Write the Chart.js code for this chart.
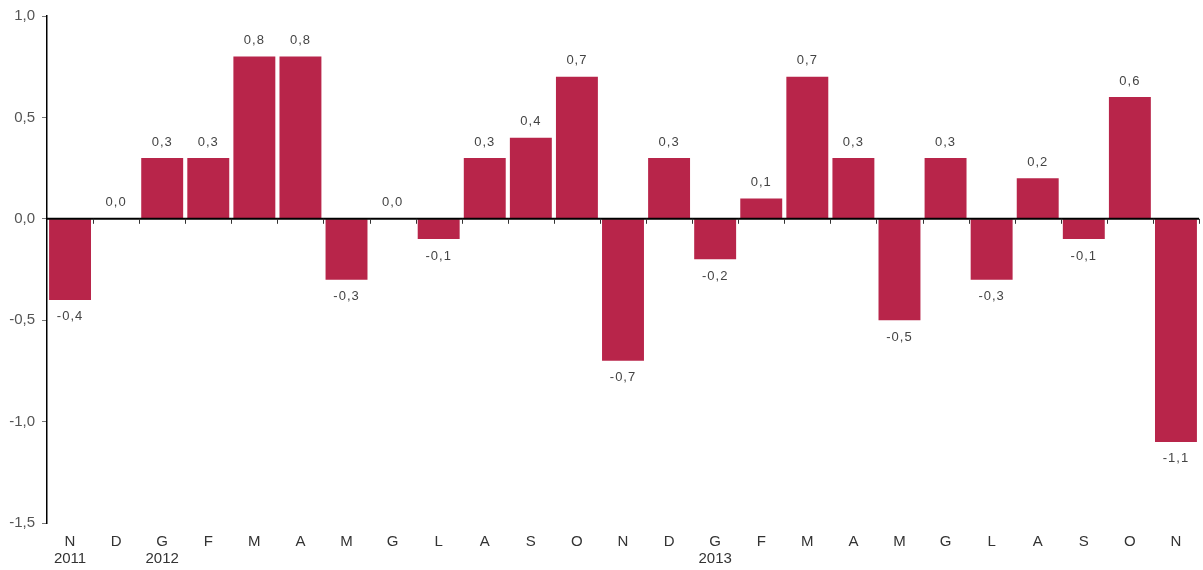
<!DOCTYPE html>
<html>
<head>
<meta charset="utf-8">
<script src="https://cdn.jsdelivr.net/npm/chart.js@4"></script>
<style>
  html, body { margin: 0; padding: 0; background: #fff; }
  #wrap { width: 1203px; height: 570px; }
</style>
</head>
<body>
<div id="wrap"><canvas id="myChart"></canvas></div>
<script>
const months = ['N', 'D', 'G', 'F', 'M', 'A', 'M', 'G', 'L', 'A', 'S', 'O', 'N',
                'D', 'G', 'F', 'M', 'A', 'M', 'G', 'L', 'A', 'S', 'O', 'N'];
const years = ['2011', '', '2012', '', '', '', '', '', '', '', '', '', '',
               '', '2013', '', '', '', '', '', '', '', '', '', ''];
const values = [-0.4, 0.0, 0.3, 0.3, 0.8, 0.8, -0.3, 0.0, -0.1, 0.3, 0.4, 0.7, -0.7,
                0.3, -0.2, 0.1, 0.7, 0.3, -0.5, 0.3, -0.3, 0.2, -0.1, 0.6, -1.1];
const yTicks = [1.0, 0.5, 0.0, -0.5, -1.0, -1.5];

const labels = months.map((m, i) => years[i] ? [m, years[i]] : m);
const fmt = v => v.toFixed(1).replace('.', ',');

// value labels above / below the bars
const barLabels = {
    id: 'barLabels',
    afterDatasetsDraw(chart) {
        const ctx = chart.ctx;
        const meta = chart.getDatasetMeta(0);
        ctx.save();
        ctx.font = '13px "Liberation Sans", Arial, sans-serif';
        ctx.fillStyle = '#444';
        ctx.textAlign = 'center';
        ctx.textBaseline = 'middle';
        if ('letterSpacing' in ctx) ctx.letterSpacing = '1px';
        meta.data.forEach((bar, i) => {
            const v = values[i];
            const y = v >= 0 ? bar.y - 16 : bar.y + 17;
            ctx.fillText(fmt(v), bar.x, y);
        });
        ctx.restore();
    }
};

// zero line with small tick marks between categories
const zeroAxis = {
    id: 'zeroAxis',
    afterDatasetsDraw(chart) {
        const ctx = chart.ctx;
        const x = chart.scales.x, y = chart.scales.y;
        const y0 = y.getPixelForValue(0);
        ctx.save();
        ctx.strokeStyle = '#000';
        ctx.lineWidth = 2;
        ctx.beginPath();
        ctx.moveTo(chart.chartArea.left, y0);
        ctx.lineTo(chart.chartArea.right, y0);
        ctx.stroke();
        ctx.lineWidth = 1;
        ctx.strokeStyle = '#333';
        const half = (x.getPixelForValue(1) - x.getPixelForValue(0)) / 2;
        for (let i = 0; i < values.length; i++) {
            const px = Math.round(x.getPixelForValue(i) + half) + 0.5;
            ctx.beginPath();
            ctx.moveTo(px, y0);
            ctx.lineTo(px, y0 + 5);
            ctx.stroke();
        }
        ctx.restore();
    }
};

new Chart(document.getElementById('myChart').getContext('2d'), {
    type: 'bar',
    data: {
        labels: labels,
        datasets: [{
            data: values,
            backgroundColor: '#B8254A',
            borderWidth: 0,
            barPercentage: 0.91,
            categoryPercentage: 1.0
        }]
    },
    options: {
        responsive: true,
        maintainAspectRatio: false,
        animation: false,
        layout: { padding: { top: 15, right: 4, left: 0, bottom: 0 } },
        plugins: { legend: { display: false }, tooltip: { enabled: false } },
        scales: {
            x: {
                grid: { display: false, drawTicks: false },
                border: { display: false },
                ticks: {
                    color: '#333',
                    padding: 10,
                    maxRotation: 0,
                    autoSkip: false,
                    font: { family: '"Liberation Sans", Arial, sans-serif', size: 15, lineHeight: 1.15 }
                },
                afterFit(scale) { scale.height = 47; }
            },
            y: {
                min: -1.5,
                max: 1.0,
                afterBuildTicks(scale) {
                    scale.ticks = yTicks.map(v => ({ value: v }));
                },
                grid: {
                    drawOnChartArea: false,
                    drawTicks: true,
                    tickLength: 5,
                    tickColor: '#777'
                },
                border: { display: true, color: '#000', width: 1.5 },
                ticks: {
                    color: '#555',
                    padding: 7,
                    font: { family: '"Liberation Sans", Arial, sans-serif', size: 15 },
                    callback: v => fmt(v)
                },
                afterFit(scale) { scale.width = 47; }
            }
        }
    },
    plugins: [barLabels, zeroAxis]
});
</script>
</body>
</html>
